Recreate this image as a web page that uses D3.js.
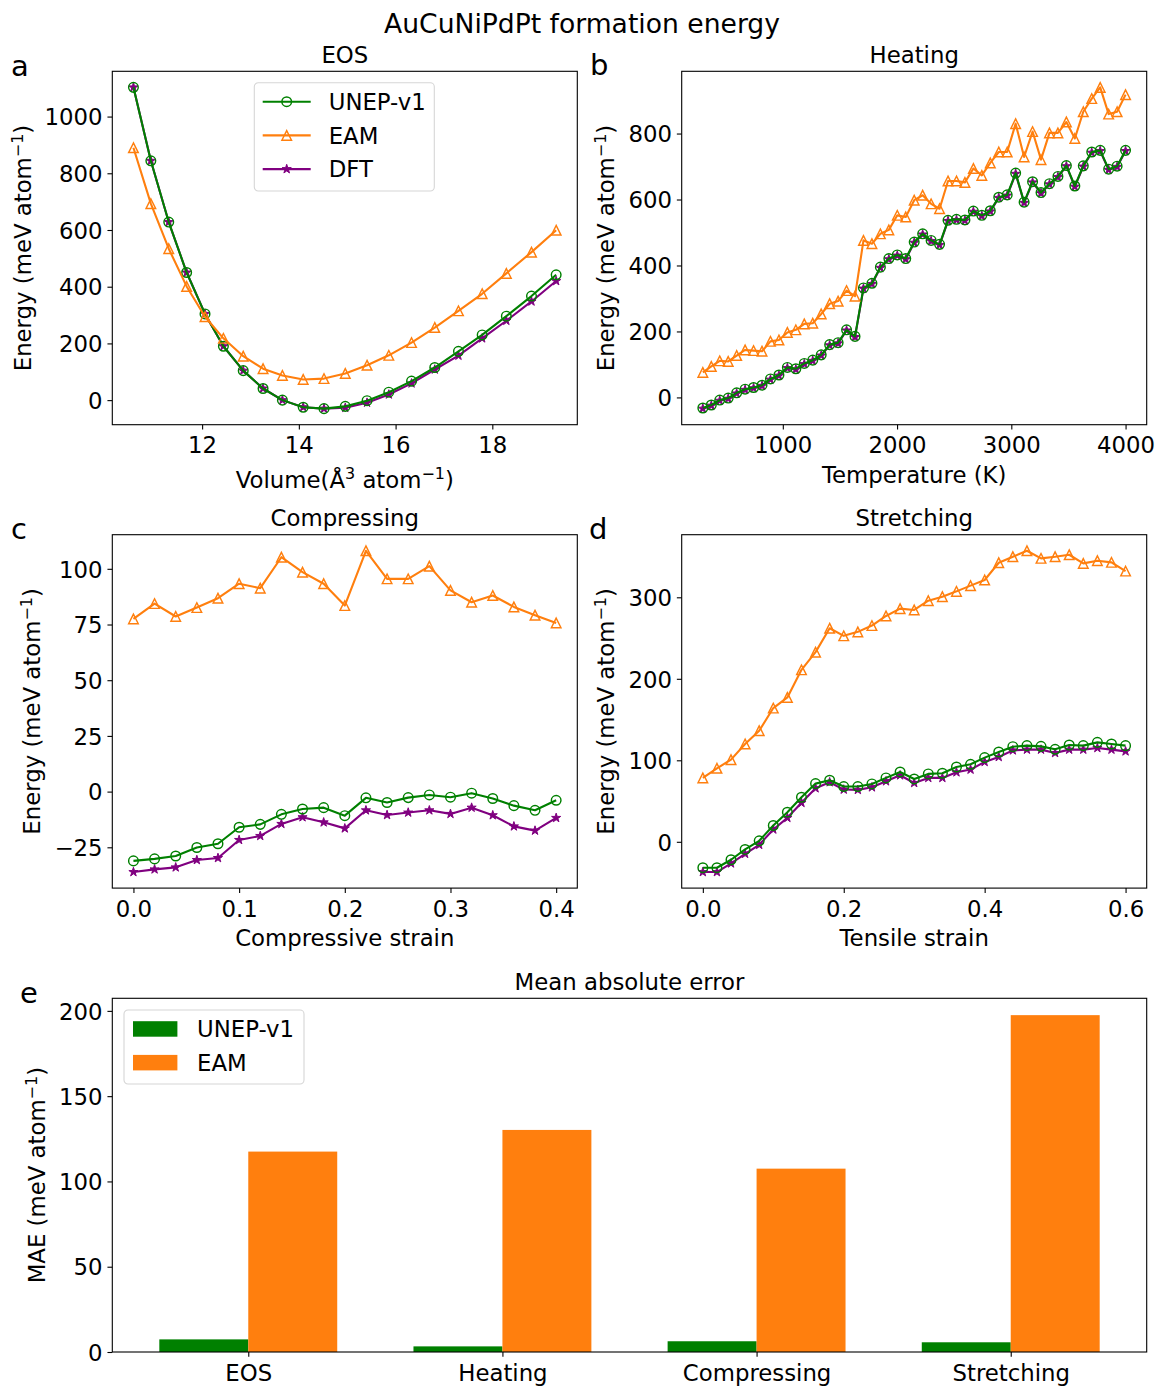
<!DOCTYPE html>
<html>
<head>
<meta charset="utf-8">
<script src="https://cdn.jsdelivr.net/npm/d3@7"></script>
<style>
  body { margin: 0; background: #fff; }
  svg { display: block; }
  text { font-family: "DejaVu Sans", sans-serif; fill: #000; }
</style>
</head>
<body>
<svg id="fig"></svg>
<script>
// ---------- data ----------
// a: equation of state
const eosVolume = [10.58, 10.94, 11.31, 11.68, 12.06, 12.44, 12.85, 13.26, 13.66, 14.09, 14.52,
                   14.96, 15.41, 15.86, 16.33, 16.81, 17.30, 17.79, 18.29, 18.81, 19.32];
const eosUNEP = [1103, 844, 628, 450, 304, 190, 104, 41, 0, -25, -30, -22, -2, 28, 67, 115, 172, 230, 296, 367, 442];
const eosEAM  = [890, 693, 534, 401, 294, 218, 155, 111, 87, 73, 76, 94, 123, 158, 203, 256, 315, 375, 447, 522, 599];
const eosDFT  = [1103, 844, 628, 450, 304, 190, 104, 41, 0, -25, -30, -27, -9, 20, 59, 108, 157, 218, 280, 348, 420];

// b: heating
const heatT = [300, 374, 448, 522, 596, 670, 744, 818, 892, 966, 1040, 1114, 1188, 1262, 1336, 1410, 1484,
               1558, 1632, 1706, 1780, 1854, 1928, 2002, 2076, 2150, 2224, 2298, 2372, 2446, 2520, 2594,
               2668, 2742, 2816, 2890, 2964, 3038, 3112, 3186, 3260, 3334, 3408, 3482, 3556, 3630, 3704,
               3778, 3852, 3926, 4000];
const heatUNEP = [-32, -23, -8, -2, 14, 25, 30, 37, 56, 68, 91, 87, 103, 113, 129, 160, 166, 205, 185, 332,
                  346, 395, 421, 432, 421, 471, 496, 476, 464, 537, 540, 538, 565, 552, 566, 607, 614, 680,
                  592, 654, 621, 648, 670, 703, 641, 702, 744, 749, 692, 701, 749];
const heatEAM  = [76, 94, 111, 109, 127, 144, 142, 140, 170, 174, 197, 205, 223, 225, 253, 284, 292, 324, 307,
                  476, 466, 496, 508, 552, 547, 598, 613, 587, 572, 656, 656, 652, 694, 673, 711, 744, 744,
                  830, 729, 806, 721, 802, 802, 835, 785, 866, 906, 940, 859, 866, 918];
const heatDFT  = [-34, -25, -10, -4, 12, 23, 28, 35, 54, 66, 89, 85, 101, 111, 127, 158, 164, 203, 183, 330,
                  344, 393, 419, 430, 419, 469, 494, 474, 462, 535, 538, 536, 563, 550, 564, 605, 612, 678,
                  590, 652, 619, 646, 668, 701, 639, 700, 742, 747, 690, 699, 747];

// c: compressing
const compStrain = [0.00, 0.02, 0.04, 0.06, 0.08, 0.10, 0.12, 0.14, 0.16, 0.18, 0.20,
                    0.22, 0.24, 0.26, 0.28, 0.30, 0.32, 0.34, 0.36, 0.38, 0.40];
const compUNEP = [-31.1, -30.2, -28.9, -25.1, -23.4, -16.0, -14.7, -10.2, -7.8, -7.2, -10.8,
                  -2.8, -4.9, -2.7, -1.5, -2.5, -0.7, -3.1, -6.3, -8.4, -3.9];
const compEAM  = [77.5, 84.4, 78.6, 82.6, 86.8, 93.3, 91.3, 105.2, 98.5, 93.3, 83.5,
                  108.1, 95.5, 95.5, 101.2, 90.3, 85.0, 88.0, 82.9, 79.2, 75.7];
const compDFT  = [-36.1, -34.9, -34.0, -30.7, -29.8, -21.7, -19.9, -14.5, -11.5, -13.8, -16.5,
                  -8.4, -10.5, -9.4, -8.4, -10.0, -7.2, -10.6, -15.6, -17.5, -11.8];

// d: stretching
const strStrain = [0.00, 0.02, 0.04, 0.06, 0.08, 0.10, 0.12, 0.14, 0.16, 0.18, 0.20, 0.22, 0.24, 0.26, 0.28, 0.30,
                   0.32, 0.34, 0.36, 0.38, 0.40, 0.42, 0.44, 0.46, 0.48, 0.50, 0.52, 0.54, 0.56, 0.58, 0.60];
const strUNEP = [-31.8, -31.8, -22.0, -9.4, 1.2, 20.0, 36.3, 54.7, 71.4, 75.5, 67.8, 67.8, 71.0, 78.4, 85.7, 77.1,
                 83.3, 84.1, 91.8, 95.1, 103.3, 110.2, 116.7, 118.0, 117.1, 113.5, 118.8, 118.0, 122.0, 120.0, 118.0];
const strEAM  = [78.4, 90.2, 100.8, 120.0, 136.3, 164.1, 177.1, 211.0, 232.7, 262.0, 252.7, 257.6, 265.3, 277.1, 286.1, 284.5,
                 295.9, 300.8, 307.3, 314.3, 321.2, 342.4, 349.8, 357.1, 347.8, 349.8, 352.2, 341.6, 344.9, 342.9, 332.2];
const strDFT  = [-37.1, -37.1, -26.5, -14.7, -3.7, 15.1, 29.4, 47.8, 65.7, 73.1, 64.1, 63.7, 66.9, 74.3, 81.6, 72.2,
                 78.4, 78.4, 85.3, 88.6, 98.0, 104.1, 112.2, 113.1, 113.1, 109.0, 113.1, 113.1, 115.1, 113.1, 111.0];

// e: mean absolute error
const maeCategories = ["EOS", "Heating", "Compressing", "Stretching"];
const maeUNEP = [7.4, 3.3, 6.3, 5.7];
const maeEAM  = [117.5, 130.2, 107.5, 197.5];

// tick values
const eosXTicks = [12, 14, 16, 18];
const eosYTicks = [0, 200, 400, 600, 800, 1000];
const heatXTicks = [1000, 2000, 3000, 4000];
const heatYTicks = [0, 200, 400, 600, 800];
const compXTicks = [0.0, 0.1, 0.2, 0.3, 0.4];
const compYTicks = [-25, 0, 25, 50, 75, 100];
const strXTicks = [0.0, 0.2, 0.4, 0.6];
const strYTicks = [0, 100, 200, 300];
const maeYTicks = [0, 50, 100, 150, 200];

// ---------- styles ----------
const C_UNEP = "#008000", C_EAM = "#ff7f0e", C_DFT = "#800080";
const FS = 22.8, LW = 2.1, MEW = 1.45, MS = 4.8, TICK = 4.86, SPINE = 1.1;

const W = 1156, H = 1386;
const svg = d3.select("#fig").attr("width", W).attr("height", H);
svg.append("rect").attr("width", W).attr("height", H).attr("fill", "#fff");

function padded(arrs) {
  const all = arrs.flat();
  const lo = d3.min(all), hi = d3.max(all), r = hi - lo;
  return [lo - 0.05 * r, hi + 0.05 * r];
}

function starPath(R) {
  const r = R * 0.381966;
  let p = "";
  for (let k = 0; k < 10; k++) {
    const rad = k % 2 ? r : R;
    const a = -Math.PI / 2 + k * Math.PI / 5;
    p += (k ? "L" : "M") + (rad * Math.cos(a)).toFixed(2) + "," + (rad * Math.sin(a)).toFixed(2);
  }
  return p + "Z";
}
const trianglePath = `M0,${-MS}L${-MS},${MS}L${MS},${MS}Z`;
const starMarker = starPath(MS);

function drawMarker(sel, kind, color) {
  if (kind === "circle") {
    sel.append("circle").attr("r", MS).attr("fill", "none").attr("stroke", color).attr("stroke-width", MEW);
  } else if (kind === "triangle") {
    sel.append("path").attr("d", trianglePath).attr("fill", "none")
      .attr("stroke", color).attr("stroke-width", MEW).attr("stroke-linejoin", "miter");
  } else {
    sel.append("path").attr("d", starMarker).attr("fill", color)
      .attr("stroke", color).attr("stroke-width", 1);
  }
}

// text parts: strings, or {sup: "..."} for superscripts
function addRichText(t, parts) {
  let shift = 0;
  parts.forEach(p => {
    if (typeof p === "string") {
      const s = t.append("tspan").text(p);
      if (shift) { s.attr("dy", shift); shift = 0; }
    } else {
      t.append("tspan").attr("dy", -8.5 - shift).attr("font-size", FS * 0.7).text(p.sup);
      shift = 8.5;
    }
  });
}

let clipId = 0;
function makeAxes(cfg) {
  const g = svg.append("g").attr("transform", `translate(${cfg.left},${cfg.top})`);
  const x = d3.scaleLinear().domain(cfg.xDomain).range([0, cfg.w]);
  const y = d3.scaleLinear().domain(cfg.yDomain).range([cfg.h, 0]);
  const id = "clip" + (clipId++);
  g.append("clipPath").attr("id", id).append("rect").attr("width", cfg.w).attr("height", cfg.h);
  const plot = g.append("g").attr("clip-path", `url(#${id})`);

  // x axis
  const xa = g.append("g").attr("transform", `translate(0,${cfg.h})`)
    .call(d3.axisBottom(x).tickValues(cfg.xTicks).tickFormat(cfg.xFmt).tickSize(TICK).tickSizeOuter(0));
  xa.select(".domain").remove();
  xa.attr("font-family", null).attr("font-size", null);
  xa.selectAll("line").attr("stroke", "#000").attr("stroke-width", SPINE);
  xa.selectAll("text").attr("y", 28.5).attr("dy", null).attr("font-size", FS).attr("fill", "#000");

  // y axis
  const ya = g.append("g")
    .call(d3.axisLeft(y).tickValues(cfg.yTicks).tickFormat(cfg.yFmt).tickSize(TICK).tickSizeOuter(0));
  ya.select(".domain").remove();
  ya.attr("font-family", null).attr("font-size", null);
  ya.selectAll("line").attr("stroke", "#000").attr("stroke-width", SPINE);
  ya.selectAll("text").attr("x", -9.7).attr("dy", "0.36em").attr("font-size", FS).attr("fill", "#000");

  // title
  g.append("text").attr("x", cfg.w / 2).attr("y", -8.8).attr("text-anchor", "middle")
    .attr("font-size", FS).text(cfg.title);

  // panel letter
  svg.append("text").attr("x", cfg.letterX).attr("y", cfg.letterY).attr("font-size", 29).text(cfg.letter);

  // x label
  if (cfg.xLabel) {
    const t = g.append("text").attr("x", cfg.w / 2).attr("y", cfg.h + cfg.xLabelDy)
      .attr("text-anchor", "middle").attr("font-size", FS);
    addRichText(t, cfg.xLabel);
  }
  // y label
  const yl = svg.append("text")
    .attr("transform", `translate(${cfg.yLabelX},${cfg.top + cfg.h / 2}) rotate(-90)`)
    .attr("text-anchor", "middle").attr("font-size", FS);
  addRichText(yl, cfg.yLabel);

  return { g, plot, x, y, cfg };
}

function frame(ax) {
  ax.g.append("rect").attr("width", ax.cfg.w).attr("height", ax.cfg.h)
    .attr("fill", "none").attr("stroke", "#000").attr("stroke-width", SPINE);
}

function drawSeries(ax, xs, ys, color, marker) {
  const pts = xs.map((v, i) => [v, ys[i]]);
  const line = d3.line().x(d => ax.x(d[0])).y(d => ax.y(d[1]));
  ax.plot.append("path").datum(pts).attr("d", line).attr("fill", "none")
    .attr("stroke", color).attr("stroke-width", LW).attr("stroke-linejoin", "round");
  ax.plot.append("g").selectAll("g").data(pts).join("g")
    .attr("transform", d => `translate(${ax.x(d[0])},${ax.y(d[1])})`)
    .each(function () { drawMarker(d3.select(this), marker, color); });
}

const energyLabel = ["Energy (meV atom", { sup: "\u22121" }, ")"];
const PW = 465, PH = 353.4;
const intFmt = d3.format("d"), oneFmt = d3.format(".1f");

// ---------- a: EOS ----------
const axA = makeAxes({
  left: 112.3, top: 71.3, w: PW, h: PH,
  xDomain: padded([eosVolume]), yDomain: padded([eosUNEP, eosEAM, eosDFT]),
  xTicks: eosXTicks, yTicks: eosYTicks, xFmt: intFmt, yFmt: intFmt,
  title: "EOS", letter: "a", letterX: 11, letterY: 76,
  xLabel: ["Volume(\u00C5", { sup: "3" }, " atom", { sup: "\u22121" }, ")"], xLabelDy: 63,
  yLabel: energyLabel, yLabelX: 31
});
drawSeries(axA, eosVolume, eosDFT, C_DFT, "star");
drawSeries(axA, eosVolume, eosUNEP, C_UNEP, "circle");
drawSeries(axA, eosVolume, eosEAM, C_EAM, "triangle");
frame(axA);

// legend
(function () {
  const lg = svg.append("g").attr("transform", "translate(254.3,82.7)");
  lg.append("rect").attr("width", 180).attr("height", 108.3).attr("rx", 4)
    .attr("fill", "#fff").attr("fill-opacity", 0.8).attr("stroke", "#d6d6d6").attr("stroke-width", 1.1);
  const items = [["UNEP-v1", C_UNEP, "circle"], ["EAM", C_EAM, "triangle"], ["DFT", C_DFT, "star"]];
  items.forEach((it, i) => {
    const cy = 19 + i * 33.7;
    lg.append("line").attr("x1", 8.4).attr("x2", 56.4).attr("y1", cy).attr("y2", cy)
      .attr("stroke", it[1]).attr("stroke-width", LW);
    drawMarker(lg.append("g").attr("transform", `translate(32.4,${cy})`), it[2], it[1]);
    lg.append("text").attr("x", 74.4).attr("y", cy).attr("dy", "0.36em").attr("font-size", FS).text(it[0]);
  });
})();

// ---------- b: heating ----------
const axB = makeAxes({
  left: 681.7, top: 71.3, w: PW, h: PH,
  xDomain: padded([heatT]), yDomain: padded([heatUNEP, heatEAM, heatDFT]),
  xTicks: heatXTicks, yTicks: heatYTicks, xFmt: intFmt, yFmt: intFmt,
  title: "Heating", letter: "b", letterX: 590, letterY: 75,
  xLabel: ["Temperature (K)"], xLabelDy: 58,
  yLabel: energyLabel, yLabelX: 614
});
drawSeries(axB, heatT, heatDFT, C_DFT, "star");
drawSeries(axB, heatT, heatUNEP, C_UNEP, "circle");
drawSeries(axB, heatT, heatEAM, C_EAM, "triangle");
frame(axB);

// ---------- c: compressing ----------
const axC = makeAxes({
  left: 112.3, top: 534.7, w: PW, h: PH,
  xDomain: padded([compStrain]), yDomain: padded([compUNEP, compEAM, compDFT]),
  xTicks: compXTicks, yTicks: compYTicks, xFmt: oneFmt, yFmt: intFmt,
  title: "Compressing", letter: "c", letterX: 11, letterY: 539,
  xLabel: ["Compressive strain"], xLabelDy: 58,
  yLabel: energyLabel, yLabelX: 40
});
drawSeries(axC, compStrain, compDFT, C_DFT, "star");
drawSeries(axC, compStrain, compUNEP, C_UNEP, "circle");
drawSeries(axC, compStrain, compEAM, C_EAM, "triangle");
frame(axC);

// ---------- d: stretching ----------
const axD = makeAxes({
  left: 681.7, top: 534.7, w: PW, h: PH,
  xDomain: padded([strStrain]), yDomain: padded([strUNEP, strEAM, strDFT]),
  xTicks: strXTicks, yTicks: strYTicks, xFmt: oneFmt, yFmt: intFmt,
  title: "Stretching", letter: "d", letterX: 589, letterY: 539,
  xLabel: ["Tensile strain"], xLabelDy: 58,
  yLabel: energyLabel, yLabelX: 614
});
drawSeries(axD, strStrain, strDFT, C_DFT, "star");
drawSeries(axD, strStrain, strUNEP, C_UNEP, "circle");
drawSeries(axD, strStrain, strEAM, C_EAM, "triangle");
frame(axD);

// ---------- e: MAE bars ----------
const BW = 0.35;
const idx = maeCategories.map((_, i) => i);
const axE = makeAxes({
  left: 112.3, top: 998.3, w: 1034.4, h: 353.7,
  xDomain: padded([idx.map(i => i - BW), idx.map(i => i + BW)]),
  yDomain: [0, d3.max(maeEAM.concat(maeUNEP)) * 1.05],
  xTicks: idx, yTicks: maeYTicks, xFmt: i => maeCategories[i], yFmt: intFmt,
  title: "Mean absolute error", letter: "e", letterX: 20, letterY: 1003,
  xLabel: null, yLabel: ["MAE (meV atom", { sup: "\u22121" }, ")"], yLabelX: 45
});
axE.plot.append("g").selectAll("rect").data(maeUNEP).join("rect")
  .attr("x", (d, i) => axE.x(i - BW)).attr("width", (d, i) => axE.x(i) - axE.x(i - BW))
  .attr("y", d => axE.y(d)).attr("height", d => axE.y(0) - axE.y(d)).attr("fill", C_UNEP);
axE.plot.append("g").selectAll("rect").data(maeEAM).join("rect")
  .attr("x", (d, i) => axE.x(i)).attr("width", (d, i) => axE.x(i + BW) - axE.x(i))
  .attr("y", d => axE.y(d)).attr("height", d => axE.y(0) - axE.y(d)).attr("fill", C_EAM);
frame(axE);

(function () {
  const lg = svg.append("g").attr("transform", "translate(124,1010)");
  lg.append("rect").attr("width", 180).attr("height", 74).attr("rx", 4)
    .attr("fill", "#fff").attr("fill-opacity", 0.8).attr("stroke", "#d6d6d6").attr("stroke-width", 1.1);
  [["UNEP-v1", C_UNEP], ["EAM", C_EAM]].forEach((it, i) => {
    const cy = 19 + i * 33.7;
    lg.append("rect").attr("x", 9).attr("y", cy - 7.8).attr("width", 44.4).attr("height", 15.5).attr("fill", it[1]);
    lg.append("text").attr("x", 73).attr("y", cy).attr("dy", "0.36em").attr("font-size", FS).text(it[0]);
  });
})();

// ---------- figure title ----------
svg.append("text").attr("x", 582).attr("y", 33).attr("text-anchor", "middle")
  .attr("font-size", 26.6).text("AuCuNiPdPt formation energy");
</script>
</body>
</html>
